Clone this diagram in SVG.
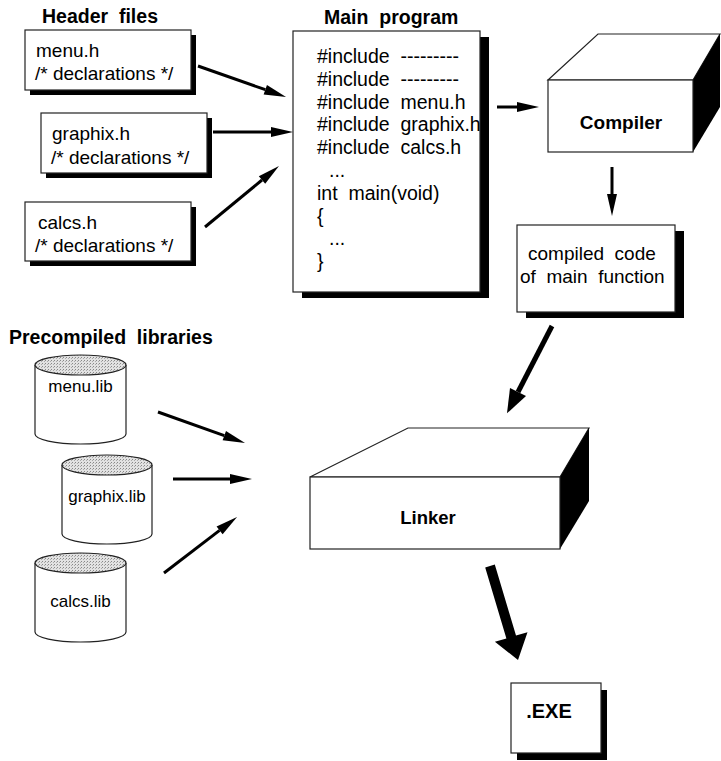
<svg xmlns="http://www.w3.org/2000/svg" width="721" height="761" viewBox="0 0 721 761">
<style>
text{font-family:"Liberation Sans",Arial,sans-serif;fill:#000;white-space:pre}
.t{font-size:19px}
.title{font-size:19.5px;font-weight:bold}
.b{font-weight:bold}
.box{fill:#fff;stroke:#222;stroke-width:1.2}
.sh{fill:#000}
.lib{font-size:17px;text-anchor:middle}
.cyl{fill:#fff;stroke:#222;stroke-width:1.2}
.cap{fill:url(#stipple);stroke:#222;stroke-width:1.2}
.ar{stroke:#000;stroke-width:3;fill:none;marker-end:url(#ah)}
.ar2{stroke:#000;stroke-width:5;fill:none;marker-end:url(#ah2)}
</style>
<defs>
<pattern id="stipple" patternUnits="userSpaceOnUse" width="3" height="3">
<rect width="3" height="3" fill="#e2e2e2"/>
<rect x="0" y="0" width="1" height="1" fill="#888"/>
<rect x="2" y="1" width="1" height="1" fill="#aaa"/>
</pattern>
<marker id="ah" markerUnits="userSpaceOnUse" viewBox="0 -6 24 12" refX="0" refY="0" markerWidth="24" markerHeight="12" orient="auto" overflow="visible">
<path d="M0,-5 L22,0 L0,5 z" fill="#000"/>
</marker>
<marker id="ah2" markerUnits="userSpaceOnUse" viewBox="0 -10 26 20" refX="0" refY="0" markerWidth="26" markerHeight="20" orient="auto" overflow="visible">
<path d="M0,-9 L24,0 L0,9 z" fill="#000"/>
</marker>
</defs>

<text class="title" x="42" y="23">Header  files</text>
<text class="title" x="324" y="24">Main  program</text>
<text class="title" x="9" y="344">Precompiled  libraries</text>

<g id="menu_h">
<rect class="sh" x="30" y="35" width="166" height="60"/>
<rect class="box" x="25" y="30" width="166" height="60"/>
<text class="t" x="36" y="57">menu.h</text>
<text class="t" x="35" y="80">/* declarations */</text>
</g>
<g id="graphix_h">
<rect class="sh" x="46" y="118" width="166" height="60"/>
<rect class="box" x="41" y="113" width="166" height="60"/>
<text class="t" x="52" y="140">graphix.h</text>
<text class="t" x="51" y="164">/* declarations */</text>
</g>
<g id="calcs_h">
<rect class="sh" x="30" y="207" width="166" height="59"/>
<rect class="box" x="25" y="202" width="166" height="59"/>
<text class="t" x="38" y="229">calcs.h</text>
<text class="t" x="35" y="252">/* declarations */</text>
</g>

<g id="main_program">
<rect class="sh" x="302" y="37" width="187" height="261"/>
<rect class="box" x="293" y="31" width="187" height="261"/>
<g style="font-size:19.5px">
<text x="317" y="63">#include  ---------</text>
<text x="317" y="86">#include  ---------</text>
<text x="317" y="109">#include  menu.h</text>
<text x="317" y="131">#include  graphix.h</text>
<text x="317" y="154">#include  calcs.h</text>
<text x="329" y="177">...</text>
<text x="317" y="200">int  main(void)</text>
<text x="317" y="223">{</text>
<text x="329" y="245">...</text>
<text x="317" y="268">}</text>
</g>
</g>

<g id="compiler">
<polygon class="box" points="548,80 598,34 720,34 693,80"/>
<polygon class="sh" points="693,80 720,34 720,107 693,152"/>
<rect class="box" x="548" y="80" width="145" height="72"/>
<text class="b" x="621" y="129" font-size="19" text-anchor="middle">Compiler</text>
</g>

<g id="compiled_code">
<rect class="sh" x="526" y="231" width="158" height="87"/>
<rect class="box" x="517" y="225" width="158" height="87"/>
<text class="t" x="528" y="260">compiled  code</text>
<text class="t" x="520" y="283">of  main  function</text>
</g>

<g id="menu_lib">
<path class="cyl" d="M35,365 L35,434 A45.5,10 0 0 0 126,434 L126,365"/>
<ellipse class="cap" cx="80.5" cy="365" rx="45.5" ry="10"/>
<text class="lib" x="80.5" y="392">menu.lib</text>
</g>
<g id="graphix_lib">
<path class="cyl" d="M62,465 L62,534 A45,10 0 0 0 152,534 L152,465"/>
<ellipse class="cap" cx="107" cy="465" rx="45" ry="10"/>
<text class="lib" x="107" y="502">graphix.lib</text>
</g>
<g id="calcs_lib">
<path class="cyl" d="M35,563 L35,632 A45.5,10 0 0 0 126,632 L126,563"/>
<ellipse class="cap" cx="80.5" cy="563" rx="45.5" ry="10"/>
<text class="lib" x="80.5" y="607">calcs.lib</text>
</g>

<g id="linker">
<polygon class="box" points="310,477 408,428 589,428 560,477"/>
<polygon class="sh" points="560,477 589,428 589,501 560,549"/>
<rect class="box" x="310" y="477" width="250" height="72"/>
<text class="b" x="428" y="524" font-size="18.5" text-anchor="middle">Linker</text>
</g>

<g id="exe">
<rect class="sh" x="517" y="690" width="90" height="70"/>
<rect class="box" x="511" y="683" width="90" height="70"/>
<text class="b" x="549" y="718" font-size="20" text-anchor="middle">.EXE</text>
</g>

<g id="connectors">
<line class="ar" x1="198" y1="66" x2="265.3" y2="89.7"/>
<line class="ar" x1="213" y1="132" x2="271" y2="132"/>
<line class="ar" x1="205" y1="227" x2="262" y2="180"/>
<line class="ar" x1="497" y1="107" x2="517" y2="107"/>
<line class="ar" x1="612" y1="167" x2="612" y2="194"/>
<line class="ar2" x1="552" y1="326" x2="518" y2="392"/>
<line class="ar" x1="158" y1="412" x2="224.3" y2="435.6"/>
<line class="ar" x1="173" y1="479" x2="230" y2="479"/>
<line class="ar" x1="164" y1="573" x2="219.6" y2="530.4"/>
<polygon fill="#000" points="485.2,567.4 494.8,564.6 516,635.6 527.5,632.2 518,660 494.9,641.8 506.4,638.4"/>
</g>
</svg>
